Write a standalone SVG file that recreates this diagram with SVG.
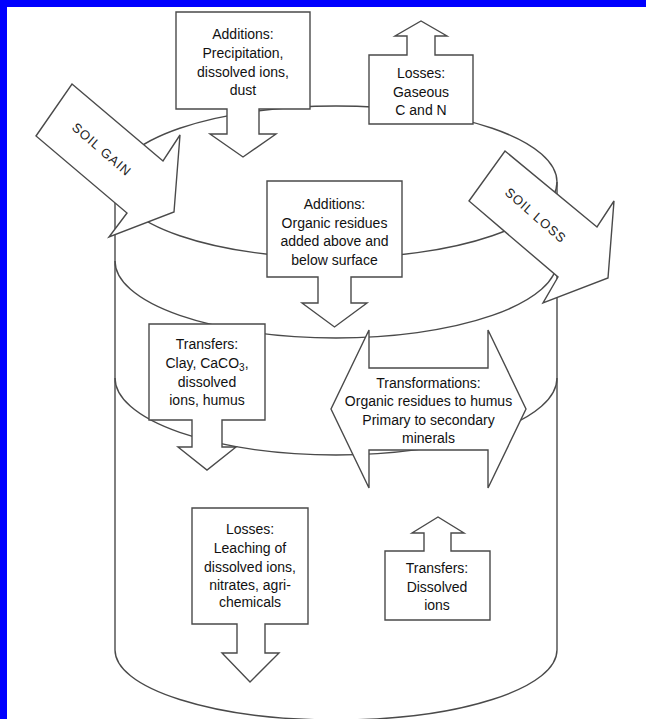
<svg xmlns="http://www.w3.org/2000/svg" width="646" height="719" viewBox="0 0 646 719">
<style>
.ln{fill:none;stroke:#4a4a4a;stroke-width:1.4}
.nd{fill:#fff;stroke:#4a4a4a;stroke-width:1.4;stroke-linejoin:miter}
.t{font-family:"Liberation Sans",Arial,sans-serif;font-size:14px;fill:#111;text-anchor:middle}
.s{font-family:"Liberation Sans",Arial,sans-serif;font-size:13px;fill:#222;text-anchor:middle;letter-spacing:1px}
</style>
<rect x="0" y="0" width="646" height="719" fill="#fff"/>
<rect x="0" y="0" width="646" height="7" fill="#0000ff"/>
<rect x="0" y="0" width="7" height="719" fill="#0000ff"/>

<g id="cylinder">
  <path class="ln" d="M115,182 L115,650 A221,70 0 0 0 557,650 L557,182"/>
  <path class="ln" d="M115,378 A221,77 0 0 0 557,378"/>
  <path class="ln" d="M115,261 A221,77 0 0 0 557,261"/>
  <ellipse class="ln" cx="336" cy="182" rx="221" ry="76"/>
</g>

<g id="connectors"></g>

<g id="additions-top">
  <polygon class="nd" points="176,12 310,12 310,109 259,109 259,134 276,134 243,157 210,134 227,134 227,109 176,109"/>
  <text class="t" x="243" y="39">Additions:</text>
  <text class="t" x="243" y="58">Precipitation,</text>
  <text class="t" x="243" y="76.5">dissolved ions,</text>
  <text class="t" x="243" y="95">dust</text>
</g>

<g id="losses-gaseous">
  <polygon class="nd" points="369,124 369,55 407,55 407,36 395,36 421,21 447,36 435,36 435,55 473,55 473,124"/>
  <text class="t" x="421" y="78">Losses:</text>
  <text class="t" x="421" y="97">Gaseous</text>
  <text class="t" x="421" y="115">C and N</text>
</g>

<g id="soil-gain">
  <polygon class="nd" points="72,84 163,161 180,135 174,212 109,237 127,213 36,136"/>
  <text class="s" transform="translate(102,149) rotate(41)" y="5">SOIL GAIN</text>
</g>

<g id="soil-loss">
  <polygon class="nd" points="505,151 597,227 614,201 608,278 543,303 558,277 469,201"/>
  <text class="s" transform="translate(536,215) rotate(41)" y="5">SOIL LOSS</text>
</g>

<g id="additions-organic">
  <polygon class="nd" points="267,181 402,181 402,277 351,277 351,303 367,303 334.5,327 302,303 318,303 318,277 267,277"/>
  <text class="t" x="334.5" y="209">Additions:</text>
  <text class="t" x="334.5" y="227.5">Organic residues</text>
  <text class="t" x="334.5" y="246">added above and</text>
  <text class="t" x="334.5" y="265">below surface</text>
</g>

<g id="transfers-clay">
  <polygon class="nd" points="149,324 265,324 265,420 222,420 222,447 236,447 207,470 178,447 192,447 192,420 149,420"/>
  <text class="t" x="207" y="349">Transfers:</text>
  <text class="t" x="207" y="368">Clay, CaCO<tspan font-size="10" dy="3">3</tspan><tspan dy="-3">,</tspan></text>
  <text class="t" x="207" y="387">dissolved</text>
  <text class="t" x="207" y="405">ions, humus</text>
</g>

<g id="transformations">
  <polygon class="nd" points="369,330 369,368 488,368 488,330 526,409 488,488 488,450 369,450 369,488 331,409"/>
  <text class="t" x="428.5" y="388">Transformations:</text>
  <text class="t" x="428.5" y="406">Organic residues to humus</text>
  <text class="t" x="428.5" y="425">Primary to secondary</text>
  <text class="t" x="428.5" y="443">minerals</text>
</g>

<g id="transfers-dissolved">
  <polygon class="nd" points="385,620 385,551 424,551 424,533 412,533 438,517 464,533 451,533 451,551 490,551 490,620"/>
  <text class="t" x="437" y="573">Transfers:</text>
  <text class="t" x="437" y="592">Dissolved</text>
  <text class="t" x="437" y="610">ions</text>
</g>

<g id="losses-leaching">
  <polygon class="nd" points="192,508 308,508 308,624 265,624 265,653 279,653 250,682 222,653 237,653 237,624 192,624"/>
  <text class="t" x="250" y="534">Losses:</text>
  <text class="t" x="250" y="553">Leaching of</text>
  <text class="t" x="250" y="572">dissolved ions,</text>
  <text class="t" x="250" y="590">nitrates, agri-</text>
  <text class="t" x="250" y="607">chemicals</text>
</g>
</svg>
